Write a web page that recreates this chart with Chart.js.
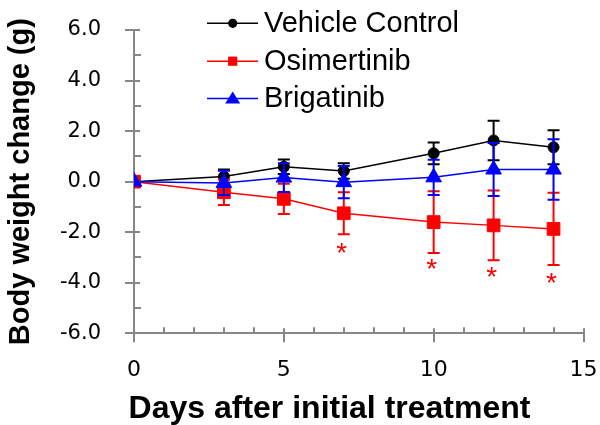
<!DOCTYPE html>
<html><head><meta charset="utf-8">
<script src="https://cdn.jsdelivr.net/npm/chart.js@4.4.1/dist/chart.umd.min.js"></script>
<style>html,body{margin:0;padding:0;background:#fff;} #wrap{width:600px;height:425px;position:relative;}</style>
</head><body><div id="wrap"><canvas id="c" width="600" height="425"></canvas></div>
<script>
// ---- data ----
const days = [0, 3, 5, 7, 10, 12, 14];
const seriesNames = ['Vehicle Control', 'Osimertinib', 'Brigatinib'];
const vehicleMean = [0, 0.20, 0.59, 0.42, 1.12, 1.63, 1.36];
const vehicleErr  = [0, 0.28, 0.29, 0.31, 0.43, 0.78, 0.67];
const osiMean     = [0, -0.42, -0.68, -1.25, -1.60, -1.73, -1.87];
const osiErr      = [0, 0.50, 0.60, 0.83, 1.22, 1.38, 1.43];
const brigMean    = [0, -0.05, 0.16, -0.02, 0.17, 0.48, 0.48];
const brigErr     = [0, 0.48, 0.57, 0.64, 0.70, 1.05, 1.20];
const asteriskDays   = [7, 10, 12, 14];
const asteriskValues = [-2.56, -3.20, -3.49, -3.73];
const xTitle = 'Days after initial treatment';
const yTitle = 'Body weight change (g)';

const AXIS = '#868686';
const COLORS = ['#000000', '#ff0000', '#0000ff'];
const STYLES = ['circle', 'rect', 'triangle'];
const RADII = [5.5, 9, 9];

function pts(means) { return days.map((d, i) => ({ x: d, y: means[i] })); }

const errorBars = {
  id: 'errorBars',
  beforeDatasetDraw(chart, args) {
    const ds = chart.data.datasets[args.index];
    const errs = ds.errors; if (!errs) return;
    const { ctx, scales: { x, y } } = chart;
    ctx.save();
    ctx.strokeStyle = ds.borderColor; ctx.lineWidth = 2;
    ds.data.forEach((p, i) => {
      const e = errs[i]; if (!e) return;
      const px = x.getPixelForValue(p.x);
      const t = y.getPixelForValue(p.y + e), b = y.getPixelForValue(p.y - e);
      ctx.beginPath();
      ctx.moveTo(px, t); ctx.lineTo(px, b);
      ctx.moveTo(px - 6, t); ctx.lineTo(px + 6, t);
      ctx.moveTo(px - 6, b); ctx.lineTo(px + 6, b);
      ctx.stroke();
    });
    ctx.restore();
  }
};

const axisTicks = {
  id: 'axisTicks',
  beforeDatasetsDraw(chart) {
    const { ctx, scales: { x, y }, chartArea: ca } = chart;
    ctx.save(); ctx.strokeStyle = AXIS; ctx.lineWidth = 2;
    for (let v = y.min; v <= y.max; v += 1) {
      const py = Math.round(y.getPixelForValue(v));
      ctx.beginPath();
      if (v % 2 === 0) { ctx.moveTo(ca.left - 9, py); ctx.lineTo(ca.left + 6, py); }
      else { ctx.moveTo(ca.left, py); ctx.lineTo(ca.left + 7, py); }
      ctx.stroke();
    }
    for (let v = x.min; v <= x.max; v += 1) {
      const px = Math.round(x.getPixelForValue(v));
      ctx.beginPath();
      if (v % 5 === 0) { ctx.moveTo(px, ca.bottom - 5); ctx.lineTo(px, ca.bottom + 9); }
      else { ctx.moveTo(px, ca.bottom - 6); ctx.lineTo(px, ca.bottom); }
      ctx.stroke();
    }
    ctx.restore();
  }
};

const extras = {
  id: 'extras',
  afterDatasetsDraw(chart) {
    const { ctx, scales: { x, y } } = chart;
    ctx.save();
    // asterisks
    ctx.fillStyle = '#ff0000';
    ctx.font = '28px "Liberation Sans", Arial, sans-serif';
    ctx.textAlign = 'center'; ctx.textBaseline = 'alphabetic';
    asteriskDays.forEach((d, i) => {
      ctx.fillText('*', x.getPixelForValue(d) - 2, y.getPixelForValue(asteriskValues[i]) + 0.57 * 28);
    });
    // x title
    ctx.fillStyle = '#000';
    ctx.font = 'bold 32px "Liberation Sans", Arial, sans-serif';
    ctx.fillText(xTitle, 329.5, 418);
    // legend
    const rows = [23.3, 61.2, 98.6];
    chart.data.datasets.forEach((ds, i) => {
      const ry = rows[i];
      ctx.strokeStyle = ds.borderColor; ctx.lineWidth = 1.5;
      ctx.beginPath(); ctx.moveTo(207, ry); ctx.lineTo(258, ry); ctx.stroke();
      ctx.fillStyle = ds.borderColor;
      const cx = 232.7;
      ctx.beginPath();
      if (ds.pointStyle === 'circle') ctx.arc(cx, ry, 4.6, 0, Math.PI * 2);
      else if (ds.pointStyle === 'rect') ctx.rect(cx - 4.6, ry - 4.6, 9.2, 9.2);
      else { ctx.moveTo(cx, ry - 7); ctx.lineTo(cx + 7.5, ry + 5); ctx.lineTo(cx - 7.5, ry + 5); ctx.closePath(); }
      ctx.fill();
      ctx.fillStyle = '#000';
      ctx.font = '29px "Liberation Sans", Arial, sans-serif';
      ctx.textAlign = 'left'; ctx.textBaseline = 'middle';
      ctx.fillText(ds.label, 264, ry + 0.5);
    });
    ctx.restore();
  }
};

const means = [vehicleMean, osiMean, brigMean];
const errs = [vehicleErr, osiErr, brigErr];

new Chart(document.getElementById('c'), {
  type: 'line',
  data: {
    datasets: seriesNames.map((n, i) => ({
      label: n,
      data: pts(means[i]),
      errors: errs[i],
      borderColor: COLORS[i],
      backgroundColor: COLORS[i],
      pointBackgroundColor: COLORS[i],
      pointBorderColor: COLORS[i],
      pointBorderWidth: 1,
      borderWidth: 1.5,
      pointStyle: STYLES[i],
      pointRadius: RADII[i],
      tension: 0,
      fill: false,
      order: 3 - i
    }))
  },
  options: {
    responsive: false,
    animation: false,
    events: [],
    layout: { padding: { top: 30, right: 16.5, left: 0, bottom: 0 } },
    plugins: { legend: { display: false }, tooltip: { enabled: false } },
    scales: {
      x: {
        type: 'linear', min: 0, max: 15,
        grid: { display: false, drawTicks: false },
        border: { display: true, color: AXIS, width: 2 },
        ticks: { stepSize: 5, padding: 24, maxRotation: 0, color: '#000',
                 font: { family: '"DejaVu Sans"', size: 22 } },
        afterFit(s) { s.height = 91.7; s.paddingLeft = 0; s.paddingRight = 0; }
      },
      y: {
        min: -6, max: 6,
        grid: { display: false, drawTicks: false },
        border: { display: true, color: AXIS, width: 2 },
        ticks: { stepSize: 2, padding: 33, color: '#000',
                 font: { family: '"DejaVu Sans"', size: 21 },
                 callback: v => Number(v).toFixed(1) },
        title: { display: true, text: yTitle, color: '#000',
                 font: { family: '"Liberation Sans", Arial', size: 29, weight: 'bold', lineHeight: 1.2 },
                 padding: { top: 4, bottom: 0 } },
        afterFit(s) { s.width = 134; s.paddingTop = 0; s.paddingBottom = 0; }
      }
    }
  },
  plugins: [axisTicks, errorBars, extras]
});
</script>
</body></html>
